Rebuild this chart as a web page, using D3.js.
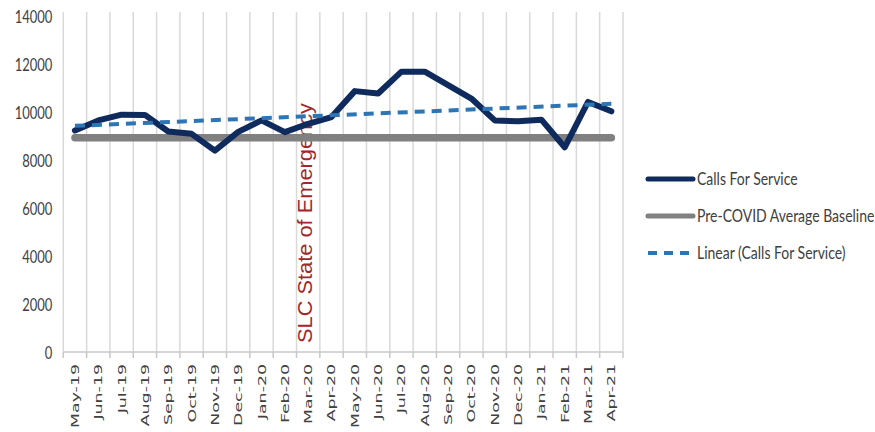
<!DOCTYPE html>
<html>
<head>
<meta charset="utf-8">
<script src="https://cdn.jsdelivr.net/npm/d3@7"></script>
<style>
  html, body { margin: 0; padding: 0; background: #fff; }
  svg { display: block; }
</style>
</head>
<body>
<svg id="chart" width="875" height="432"></svg>
<script>
// Monthly categories
const months = ["May-19","Jun-19","Jul-19","Aug-19","Sep-19","Oct-19","Nov-19","Dec-19",
  "Jan-20","Feb-20","Mar-20","Apr-20","May-20","Jun-20","Jul-20","Aug-20","Sep-20","Oct-20",
  "Nov-20","Dec-20","Jan-21","Feb-21","Mar-21","Apr-21"];

// Calls for service per month
const callsForService = [9230, 9650, 9890, 9880, 9190, 9090, 8390, 9170, 9650, 9160, 9510, 9790,
  10870, 10770, 11680, 11680, 11120, 10560, 9650, 9610, 9680, 8530, 10420, 10030];

// Pre-COVID average baseline
const baselineValue = 8930;

// Y axis ticks
const yTicks = [0, 2000, 4000, 6000, 8000, 10000, 12000, 14000];

// Event annotation
const eventMonth = "Mar-20";
const eventLabel = "SLC State of Emergency";

// Legend entries
const legendLabels = ["Calls For Service", "Pre-COVID Average Baseline", "Linear (Calls For Service)"];

const colors = { calls: "#0f2a5c", baseline: "#808080", trend: "#2e75b6", event: "#a3262a" };

const svg = d3.select("#chart");
const plotLeft = 63.3, plotRight = 623, plotTop = 16, plotBottom = 352;

const x = d3.scaleBand().domain(months).range([plotLeft, plotRight]).padding(0);
const y = d3.scaleLinear().domain([0, 14000]).range([plotBottom, plotTop]);
const cx = m => x(m) + x.bandwidth() / 2;

// Vertical gridlines at category boundaries
const bounds = months.map(m => x(m)).concat([plotRight]);
svg.append("g").selectAll("line").data(bounds).join("line")
  .attr("x1", d => d).attr("x2", d => d)
  .attr("y1", plotTop - 4).attr("y2", plotBottom)
  .attr("stroke", "#d9d9d9").attr("stroke-width", 1.5);

// Category axis line and tick marks
svg.append("line").attr("x1", plotLeft).attr("x2", plotRight).attr("y1", plotBottom).attr("y2", plotBottom)
  .attr("stroke", "#c8c8c8").attr("stroke-width", 1.5);
svg.append("g").selectAll("line").data(bounds).join("line")
  .attr("x1", d => d).attr("x2", d => d).attr("y1", plotBottom).attr("y2", plotBottom + 6)
  .attr("stroke", "#c8c8c8").attr("stroke-width", 1.5);

// Value axis labels
const yAxis = svg.append("g").attr("transform", `translate(${plotLeft},0)`)
  .call(d3.axisLeft(y).tickValues(yTicks).tickSize(0).tickPadding(11).tickFormat(d3.format("d")));
yAxis.select(".domain").remove();
yAxis.selectAll("text")
  .attr("font-family", "Lato, 'Open Sans', sans-serif").attr("font-size", 13)
  .attr("fill", "#404040")
  .attr("dy", null).attr("dominant-baseline", "central")
  .each(function () {
    const node = d3.select(this);
    const tx = +node.attr("x");
    node.attr("transform", `translate(${tx},0) scale(1,1.28) translate(${-tx},0)`);
  });

// Category labels, rotated
svg.append("g").selectAll("text").data(months).join("text")
  .attr("transform", m => `translate(${cx(m) + 4},${plotBottom + 12}) rotate(-90) scale(1.58,1)`)
  .attr("text-anchor", "end")
  .attr("font-family", "'DejaVu Sans', Verdana, sans-serif").attr("font-size", 11)
  .attr("fill", "#404040")
  .text(m => m);

// Event annotation text
svg.append("text")
  .attr("transform", `translate(${x(eventMonth) + 15.5},${plotBottom - 9}) rotate(-90)`)
  .attr("font-family", "'Liberation Sans', Arial, sans-serif").attr("font-size", 20)
  .attr("textLength", 240).attr("lengthAdjust", "spacingAndGlyphs")
  .attr("fill", colors.event)
  .text(eventLabel);

// Baseline
svg.append("line")
  .attr("x1", cx(months[0])).attr("x2", cx(months[months.length - 1]))
  .attr("y1", y(baselineValue)).attr("y2", y(baselineValue))
  .attr("stroke", colors.baseline).attr("stroke-width", 7.5).attr("stroke-linecap", "round");

// Calls for service line
const line = d3.line().x((d, i) => cx(months[i])).y(d => y(d));
svg.append("path").datum(callsForService)
  .attr("d", line).attr("fill", "none")
  .attr("stroke", colors.calls).attr("stroke-width", 6)
  .attr("stroke-linejoin", "round").attr("stroke-linecap", "round");

// Least-squares linear trend of calls for service
const n = callsForService.length;
const mi = (n - 1) / 2, mv = d3.mean(callsForService);
const slope = d3.sum(callsForService, (v, i) => (i - mi) * (v - mv)) /
  d3.sum(callsForService, (v, i) => (i - mi) * (i - mi));
const trend = [0, n - 1].map(i => ({ i, v: mv + slope * (i - mi) }));
svg.append("path").datum(trend)
  .attr("d", d3.line().x(d => cx(months[d.i])).y(d => y(d.v)))
  .attr("fill", "none").attr("stroke", colors.trend).attr("stroke-width", 4)
  .attr("stroke-dasharray", "10,7");

// Legend
const legendY = [179, 216, 253];
const legend = svg.append("g");
const lx0 = 648, lx1 = 693;
legend.append("line").attr("x1", lx0).attr("x2", lx1).attr("y1", legendY[0]).attr("y2", legendY[0])
  .attr("stroke", colors.calls).attr("stroke-width", 5).attr("stroke-linecap", "round");
legend.append("line").attr("x1", lx0).attr("x2", lx1).attr("y1", legendY[1]).attr("y2", legendY[1])
  .attr("stroke", colors.baseline).attr("stroke-width", 5).attr("stroke-linecap", "round");
legend.append("line").attr("x1", lx0).attr("x2", lx1).attr("y1", legendY[2]).attr("y2", legendY[2])
  .attr("stroke", colors.trend).attr("stroke-width", 4).attr("stroke-dasharray", "9,7");
legend.selectAll("text").data(legendLabels).join("text")
  .attr("transform", (d, i) => `translate(697,${legendY[i]}) scale(1,1.17)`)
  .attr("dominant-baseline", "central")
  .attr("font-family", "Lato, 'Open Sans', sans-serif").attr("font-size", 14)
  .attr("fill", "#404040")
  .text(d => d);
</script>
</body>
</html>
